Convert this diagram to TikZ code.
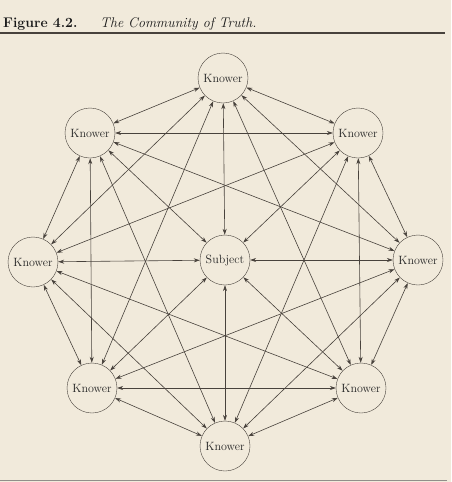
\documentclass[tikz,border=0pt]{standalone}
\usepackage{tikz}
\usetikzlibrary{arrows.meta}

\definecolor{paper}{RGB}{241,234,219}
\definecolor{ink}{RGB}{72,66,60}

\begin{document}
\begin{tikzpicture}[x=1pt, y=-1pt,
  person/.style={draw=ink, circle, minimum size=50pt, inner sep=0pt, text=black!85, font=\fontsize{12}{14}\selectfont},
  link/.style={draw=ink, line width=0.6pt, {Stealth[length=6pt,width=4pt]}-{Stealth[length=6pt,width=4pt]}}]
\fill[paper] (0,0) rectangle (451,482);
\useasboundingbox (0,0) rectangle (451,482);
\node[anchor=base west, inner sep=0pt, text=black!90, font=\fontsize{14}{16}\selectfont\bfseries] (fignum) at (3,27) {Figure 4.2.};
\node[anchor=base west, inner sep=0pt, text=black!90, font=\fontsize{14}{16}\selectfont\itshape] (figtitle) at (100,27) {The Community of Truth.};
\draw[ink, line width=1.1pt] (0,33) -- (445,33);
\draw[ink!60, line width=0.8pt] (0,480.5) -- (447,480.5);
\node[person] (kn) at (223,78) {Knower};
\node[person] (knw) at (90,133) {Knower};
\node[person] (kne) at (358,133) {Knower};
\node[person] (kw) at (33,262) {Knower};
\node[person] (subj) at (225,260) {Subject};
\node[person] (ke) at (418,260) {Knower};
\node[person] (ksw) at (92,388) {Knower};
\node[person] (kse) at (361,388) {Knower};
\node[person] (ks) at (225,446) {Knower};
\draw[link] (kn) -- (subj);
\draw[link] (knw) -- (subj);
\draw[link] (kne) -- (subj);
\draw[link] (kw) -- (subj);
\draw[link] (ke) -- (subj);
\draw[link] (ksw) -- (subj);
\draw[link] (kse) -- (subj);
\draw[link] (ks) -- (subj);
\draw[link] (kn) -- (knw);
\draw[link] (kn) -- (kne);
\draw[link] (kn) -- (kw);
\draw[link] (kn) -- (ke);
\draw[link] (kn) -- (ksw);
\draw[link] (kn) -- (kse);
\draw[link] (knw) -- (kne);
\draw[link] (knw) -- (kw);
\draw[link] (knw) -- (ke);
\draw[link] (knw) -- (ksw);
\draw[link] (knw) -- (ks);
\draw[link] (kne) -- (kw);
\draw[link] (kne) -- (ke);
\draw[link] (kne) -- (kse);
\draw[link] (kne) -- (ks);
\draw[link] (kw) -- (ksw);
\draw[link] (kw) -- (kse);
\draw[link] (kw) -- (ks);
\draw[link] (ke) -- (ksw);
\draw[link] (ke) -- (kse);
\draw[link] (ke) -- (ks);
\draw[link] (ksw) -- (kse);
\draw[link] (ksw) -- (ks);
\draw[link] (kse) -- (ks);
\end{tikzpicture}
\end{document}
